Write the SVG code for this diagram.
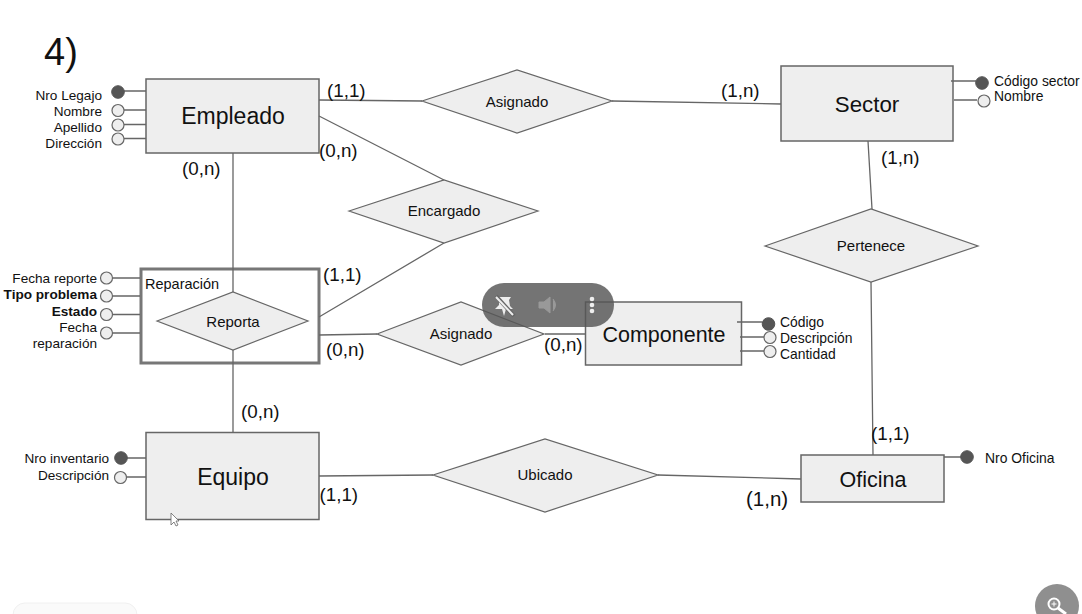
<svg xmlns="http://www.w3.org/2000/svg" width="1082" height="614" viewBox="0 0 1082 614">
<style>
text{font-family:"Liberation Sans",Arial,sans-serif;fill:#111}
.ent{fill:#eee;stroke:#666;stroke-width:1.5}
.rel{fill:#eee;stroke:#666;stroke-width:1.2}
.c{fill:none;stroke:#666;stroke-width:1.3}
.k{fill:#555;stroke:#555;stroke-width:1}
.a{fill:#eee;stroke:#666;stroke-width:1.2}
.e{font-size:23px;text-anchor:middle}
.r{font-size:15px;text-anchor:middle}
.l{font-size:13.600px;text-anchor:end}
.s{font-size:13.900px}
.m{font-size:18.800px}
</style>
<rect width="1082" height="614" fill="#fff"/>
<text x="44" y="65" font-size="38" fill="#111">4)</text>

<g id="empleado"><rect class="ent" x="146" y="79" width="173" height="74"/><text class="e" x="233" y="124">Empleado</text></g>
<g id="sector"><rect class="ent" x="781" y="66" width="172" height="75"/><text x="867" y="112" font-size="22.300" text-anchor="middle">Sector</text></g>
<g id="componente"><rect class="ent" x="585.500" y="302" width="156" height="63"/><text x="664" y="342" font-size="21.500" text-anchor="middle">Componente</text></g>
<g id="equipo"><rect class="ent" x="146" y="432.500" width="173" height="87"/><text class="e" x="233" y="485">Equipo</text></g>
<g id="oficina"><rect class="ent" x="801" y="455" width="143" height="47"/><text x="873" y="487" font-size="21.500" text-anchor="middle">Oficina</text></g>

<g id="reparacion">
<rect x="141" y="269" width="178" height="94" fill="#fff" stroke="#777" stroke-width="3"/>
<text x="145" y="289" font-size="14.500">Reparación</text>
</g>
<g id="reporta"><polygon class="rel" points="157,321 233,292 308,321 233,350"/><text class="r" x="233" y="326.500">Reporta</text></g>
<g id="asignado1"><polygon class="rel" points="422,101 517,70 612,101 517,133"/><text class="r" x="517" y="107">Asignado</text></g>
<g id="encargado"><polygon class="rel" points="349,211 444,180 538,211 444,243"/><text class="r" x="444" y="216">Encargado</text></g>
<g id="pertenece"><polygon class="rel" points="765,246 871,209 978,246 871,282"/><text class="r" x="871" y="251">Pertenece</text></g>
<g id="asignado2"><polygon class="rel" points="377,334 461,302 544,334 461,365"/><text class="r" x="461" y="339">Asignado</text></g>
<g id="ubicado"><polygon class="rel" points="433,475 545,439 658,475 545,512"/><text class="r" x="545" y="480">Ubicado</text></g>

<g id="connectors">
<path class="c" d="M319 100L422 101M612 101L781 104M319 116L444 180M233 153V292M233 350V432M444 243L319 317M319 335L377 334M545 334H586M868 141L872 209M871 282L873 455M319 476L433 475M658 475L801 479"/>
<path class="c" d="M124 91H146M124 110H146M124 124.500H146M124 138.500H146M113 278H140M113 296H140M113 314.500H140M113 333H140M127 458H146M127 477H146M737 322H762M740 337H764M740 351H764M951 81H976M954 100H977M944 457H961"/>
</g>

<g id="attrs-empleado">
<circle class="k" cx="118" cy="92" r="6.300"/><circle class="a" cx="118" cy="110.500" r="6"/><circle class="a" cx="118" cy="125" r="6"/><circle class="a" cx="118" cy="139" r="6"/>
<text class="l" x="102" y="100">Nro Legajo</text><text class="l" x="102" y="116">Nombre</text><text class="l" x="102" y="132">Apellido</text><text class="l" x="102" y="148">Dirección</text>
</g>
<g id="attrs-reparacion">
<circle class="a" cx="106.500" cy="278" r="6"/><circle class="a" cx="106.500" cy="296" r="6"/><circle class="a" cx="106.500" cy="314.500" r="6"/><circle class="a" cx="106.500" cy="333" r="6"/>
<text class="l" x="97" y="283">Fecha reporte</text><text class="l" x="97" y="299" font-weight="bold">Tipo problema</text><text class="l" x="97" y="316" font-weight="bold">Estado</text><text class="l" x="97" y="332">Fecha</text><text class="l" x="97" y="348">reparación</text>
</g>
<g id="attrs-equipo">
<circle class="k" cx="121" cy="458" r="6.300"/><circle class="a" cx="120.500" cy="477.500" r="6"/>
<text class="l" x="109" y="463">Nro inventario</text><text class="l" x="109" y="480">Descripción</text>
</g>
<g id="attrs-componente">
<circle class="k" cx="768.500" cy="324" r="6.300"/><circle class="a" cx="770" cy="337.500" r="6"/><circle class="a" cx="770" cy="351.500" r="6"/>
<text class="s" x="780" y="327">Código</text><text class="s" x="780" y="343">Descripción</text><text class="s" x="780" y="359">Cantidad</text>
</g>
<g id="attrs-sector">
<circle class="k" cx="982" cy="83" r="6.300"/><circle class="a" cx="984" cy="101" r="6"/>
<text class="s" x="994" y="86">Código sector</text><text class="s" x="994" y="101">Nombre</text>
</g>
<g id="attrs-oficina"><circle class="k" cx="967" cy="457" r="6.300"/><text class="s" x="985" y="463">Nro Oficina</text></g>

<g id="cardinalities">
<text class="m" x="327" y="97">(1,1)</text><text class="m" x="721" y="97">(1,n)</text><text class="m" x="319" y="157">(0,n)</text><text class="m" x="182" y="175">(0,n)</text>
<text class="m" x="881" y="164">(1,n)</text><text class="m" x="323" y="281">(1,1)</text><text class="m" x="326" y="356">(0,n)</text><text class="m" x="544" y="351">(0,n)</text>
<text class="m" x="241" y="418">(0,n)</text><text class="m" x="871" y="440">(1,1)</text><text class="m" x="319.500" y="501">(1,1)</text><text x="746" y="506" font-size="20.500">(1,n)</text>
</g>

<g id="overlay">
<rect x="482" y="283" width="132" height="44" rx="22" fill="#555" fill-opacity=".82"/>
<path d="M497 297H511L509 300L510 306L513 309H506L504 316L502 309H495L499 305L499 300Z" fill="#eee"/>
<path d="M496 296L514 316" stroke="#666" stroke-width="4" fill="none"/>
<path d="M496 297L513 315" stroke="#eee" stroke-width="2" fill="none"/>
<path d="M539 302H544L550 297V313L544 308H539ZM553 299Q558 305 553 311" fill="#999" stroke="#999"/>
<circle cx="592" cy="299" r="2.300" fill="#eee"/><circle cx="592" cy="305" r="2.300" fill="#eee"/><circle cx="592" cy="311" r="2.300" fill="#eee"/>
<path d="M171 513V525L174 522L176 526L178 525L176 521H179Z" fill="#fff" stroke="#666" stroke-width=".8"/>
<circle cx="1057" cy="606" r="22" fill="#8f8f8f"/>
<circle cx="1054" cy="604" r="5.500" fill="none" stroke="#fff" stroke-width="2"/><path d="M1058 608L1066 614" stroke="#fff" stroke-width="3"/><path d="M1051.500 604H1056.500M1054 601.500V606.500" stroke="#fff"/>
<rect x="13" y="603" width="124" height="30" rx="12" fill="#fafafa" stroke="#f0f0f0"/>
</g>
</svg>
